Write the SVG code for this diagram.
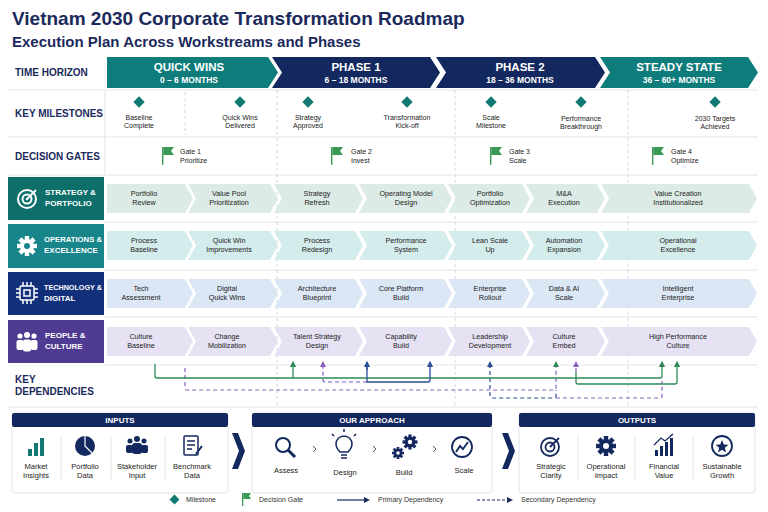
<svg xmlns="http://www.w3.org/2000/svg" width="768" height="512" viewBox="0 0 768 512">
<defs>
<style>
text{font-family:"Liberation Sans",Arial,sans-serif}
.t1{font-size:19px;font-weight:bold;fill:#1b2a5c}
.t2{font-size:15px;font-weight:bold;fill:#1b2a5c}
.rl{font-size:10px;font-weight:bold;fill:#1b2a5c}
.ph{font-size:11.5px;font-weight:bold;fill:#fff;text-anchor:middle}
.phs{font-size:8.5px;font-weight:bold;fill:#fff;text-anchor:middle}
.sm{font-size:7px;fill:#222;text-anchor:middle}
.g{font-size:7px;fill:#222}
.ws{font-size:7.2px;fill:#222;text-anchor:middle}
.wl{font-size:8px;font-weight:bold;fill:#fff}
.bh{font-size:8px;font-weight:bold;fill:#fff;text-anchor:middle}
.bl{font-size:7.5px;fill:#222;text-anchor:middle}
.lg{font-size:7px;fill:#333}
.sep{stroke:#e2e4e8;stroke-width:1}
.vd{stroke:#c8cbd2;stroke-width:0.8;stroke-dasharray:3 3}
.gr{fill:none;stroke:#2e8b57;stroke-width:1.3}
.bu{fill:none;stroke:#2b4f9a;stroke-width:1.3}
.pu{fill:none;stroke:#8a5cc0;stroke-width:1.2;stroke-dasharray:4 3}
.bud{fill:none;stroke:#2b4f9a;stroke-width:1.2;stroke-dasharray:4 3}
.ic{fill:#13285e}
</style>
<marker id="ag" viewBox="0 0 10 10" refX="5" refY="5" markerWidth="5" markerHeight="5" orient="auto"><path d="M0 0L10 5L0 10z" fill="#2e8b57"/></marker>
<marker id="ab" viewBox="0 0 10 10" refX="5" refY="5" markerWidth="5" markerHeight="5" orient="auto"><path d="M0 0L10 5L0 10z" fill="#2b4f9a"/></marker>
<marker id="ap" viewBox="0 0 10 10" refX="5" refY="5" markerWidth="5" markerHeight="5" orient="auto"><path d="M0 0L10 5L0 10z" fill="#8a5cc0"/></marker>
<marker id="an" viewBox="0 0 10 10" refX="5" refY="5" markerWidth="5" markerHeight="5" orient="auto"><path d="M0 0L10 5L0 10z" fill="#1b2a5c"/></marker>
<g id="dia"><rect x="-4" y="-4" width="8" height="8" transform="rotate(45)" fill="#127a72"/></g>
<g id="flag"><rect x="0" y="-8" width="1.4" height="18" fill="#3a9a55"/><path d="M1.4 -8 L12 -8 L9 -4 L12 0 L1.4 0z" fill="#3a9a55"/></g>
<g id="gear"><circle r="7" /><rect x="-2.2" y="-10" width="4.4" height="20"/><rect x="-2.2" y="-10" width="4.4" height="20" transform="rotate(45)"/><rect x="-2.2" y="-10" width="4.4" height="20" transform="rotate(90)"/><rect x="-2.2" y="-10" width="4.4" height="20" transform="rotate(135)"/></g>
</defs>
<rect width="768" height="512" fill="#fff"/>
<text class="t1" x="12" y="25">Vietnam 2030 Corporate Transformation Roadmap</text>
<text class="t2" x="12" y="47">Execution Plan Across Workstreams and Phases</text>

<g id="grid">
<line class="sep" x1="8" y1="90" x2="758" y2="90"/>
<line class="sep" x1="8" y1="137" x2="758" y2="137"/>
<line class="sep" x1="8" y1="175" x2="758" y2="175"/>
<line class="sep" x1="105" y1="222" x2="758" y2="222"/>
<line class="sep" x1="105" y1="270" x2="758" y2="270"/>
<line class="sep" x1="105" y1="317" x2="758" y2="317"/>
<line class="sep" x1="105" y1="365" x2="758" y2="365"/>
<line class="sep" x1="8" y1="407" x2="758" y2="407"/>
<line class="sep" x1="105" y1="90" x2="105" y2="175"/>
<line class="vd" x1="277" y1="90" x2="277" y2="405"/>
<line class="vd" x1="455" y1="90" x2="455" y2="405"/>
<line class="vd" x1="628" y1="90" x2="628" y2="405"/>
<line class="vd" x1="185" y1="92" x2="185" y2="135"/>
</g>

<g id="labels">
<text class="rl" x="15" y="76">TIME HORIZON</text>
<text class="rl" x="15" y="117">KEY MILESTONES</text>
<text class="rl" x="15" y="160">DECISION GATES</text>
<text class="rl" x="15" y="383">KEY</text>
<text class="rl" x="15" y="395">DEPENDENCIES</text>
</g>

<g id="phases">
<polygon points="107,57 268,57 278,72.5 268,88 107,88" fill="#0e7c7b"/>
<polygon points="272,57 430,57 440,72.5 430,88 272,88 282,72.5" fill="#13285e"/>
<polygon points="436,57 595,57 605,72.5 595,88 436,88 446,72.5" fill="#13285e"/>
<polygon points="600,57 748,57 758,72.5 748,88 600,88 610,72.5" fill="#0e7c7b"/>
<text class="ph" x="189" y="71">QUICK WINS</text><text class="phs" x="189" y="83">0 – 6 MONTHS</text>
<text class="ph" x="356" y="71">PHASE 1</text><text class="phs" x="356" y="83">6 – 18 MONTHS</text>
<text class="ph" x="520" y="71">PHASE 2</text><text class="phs" x="520" y="83">18 – 36 MONTHS</text>
<text class="ph" x="679" y="71">STEADY STATE</text><text class="phs" x="679" y="83">36 – 60+ MONTHS</text>
</g>

<g id="milestones">
<use href="#dia" x="139" y="102"/><text class="sm" x="139" y="120">Baseline</text><text class="sm" x="139" y="128">Complete</text>
<use href="#dia" x="240" y="102"/><text class="sm" x="240" y="120">Quick Wins</text><text class="sm" x="240" y="128">Delivered</text>
<use href="#dia" x="308" y="102"/><text class="sm" x="308" y="120">Strategy</text><text class="sm" x="308" y="128">Approved</text>
<use href="#dia" x="407" y="102"/><text class="sm" x="407" y="120">Transformation</text><text class="sm" x="407" y="128">Kick-off</text>
<use href="#dia" x="491" y="102"/><text class="sm" x="491" y="120">Scale</text><text class="sm" x="491" y="128">Milestone</text>
<use href="#dia" x="581" y="102"/><text class="sm" x="581" y="121">Performance</text><text class="sm" x="581" y="129">Breakthrough</text>
<use href="#dia" x="715" y="102"/><text class="sm" x="715" y="121">2030 Targets</text><text class="sm" x="715" y="129">Achieved</text>
</g>

<g id="gates">
<use href="#flag" x="162" y="155"/><text class="g" x="180" y="154">Gate 1</text><text class="g" x="180" y="163">Prioritize</text>
<use href="#flag" x="331" y="155"/><text class="g" x="351" y="154">Gate 2</text><text class="g" x="351" y="163">Invest</text>
<use href="#flag" x="490" y="155"/><text class="g" x="509" y="154">Gate 3</text><text class="g" x="509" y="163">Scale</text>
<use href="#flag" x="652" y="155"/><text class="g" x="671" y="154">Gate 4</text><text class="g" x="671" y="163">Optimize</text>
</g>

<g id="ws-strategy">
<rect x="8" y="177" width="96" height="43" fill="#0d6e6a"/>
<circle cx="27" cy="199" r="9" fill="none" stroke="#fff" stroke-width="2"/><circle cx="27" cy="199" r="4.5" fill="none" stroke="#fff" stroke-width="2"/><circle cx="27" cy="199" r="1.3" fill="#fff"/><line x1="27" y1="199" x2="36" y2="190" stroke="#fff" stroke-width="1.8"/>
<text class="wl" x="45" y="195">STRATEGY &amp;</text><text class="wl" x="45" y="206">PORTFOLIO</text>
<g fill="#dcebe5">
<polygon points="107,184 185,184 193,198.5 185,213 107,213"/>
<polygon points="188,184 270,184 278,198.5 270,213 188,213 196,198.5"/>
<polygon points="274,184 355,184 363,198.5 355,213 274,213 282,198.5"/>
<polygon points="359,184 444,184 452,198.5 444,213 359,213 367,198.5"/>
<polygon points="448,184 522,184 530,198.5 522,213 448,213 456,198.5"/>
<polygon points="526,184 597,184 605,198.5 597,213 526,213 534,198.5"/>
<polygon points="601,184 749,184 757,198.5 749,213 601,213 609,198.5"/>
</g>
<text class="ws" x="144" y="196">Portfolio</text><text class="ws" x="144" y="205">Review</text>
<text class="ws" x="229" y="196">Value Pool</text><text class="ws" x="229" y="205">Prioritization</text>
<text class="ws" x="317" y="196">Strategy</text><text class="ws" x="317" y="205">Refresh</text>
<text class="ws" x="406" y="196">Operating Model</text><text class="ws" x="406" y="205">Design</text>
<text class="ws" x="490" y="196">Portfolio</text><text class="ws" x="490" y="205">Optimization</text>
<text class="ws" x="564" y="196">M&amp;A</text><text class="ws" x="564" y="205">Execution</text>
<text class="ws" x="678" y="196">Value Creation</text><text class="ws" x="678" y="205">Institutionalized</text>
</g>

<g id="ws-operations">
<rect x="8" y="224" width="96" height="44" fill="#17858a"/>
<use href="#gear" x="27" y="246" fill="#fff"/><circle cx="27" cy="246" r="3" fill="#17858a"/>
<text class="wl" x="44" y="242" textLength="58" lengthAdjust="spacingAndGlyphs">OPERATIONS &amp;</text><text class="wl" x="44" y="253">EXCELLENCE</text>
<g fill="#d5ecec">
<polygon points="107,231 185,231 193,245.5 185,260 107,260"/>
<polygon points="188,231 270,231 278,245.5 270,260 188,260 196,245.5"/>
<polygon points="274,231 355,231 363,245.5 355,260 274,260 282,245.5"/>
<polygon points="359,231 444,231 452,245.5 444,260 359,260 367,245.5"/>
<polygon points="448,231 522,231 530,245.5 522,260 448,260 456,245.5"/>
<polygon points="526,231 597,231 605,245.5 597,260 526,260 534,245.5"/>
<polygon points="601,231 749,231 757,245.5 749,260 601,260 609,245.5"/>
</g>
<text class="ws" x="144" y="243">Process</text><text class="ws" x="144" y="252">Baseline</text>
<text class="ws" x="229" y="243">Quick Win</text><text class="ws" x="229" y="252">Improvements</text>
<text class="ws" x="317" y="243">Process</text><text class="ws" x="317" y="252">Redesign</text>
<text class="ws" x="406" y="243">Performance</text><text class="ws" x="406" y="252">System</text>
<text class="ws" x="490" y="243">Lean Scale</text><text class="ws" x="490" y="252">Up</text>
<text class="ws" x="564" y="243">Automation</text><text class="ws" x="564" y="252">Expansion</text>
<text class="ws" x="678" y="243">Operational</text><text class="ws" x="678" y="252">Excellence</text>
</g>

<g id="ws-technology">
<rect x="8" y="272" width="96" height="43" fill="#122f7a"/>
<g stroke="#fff" stroke-width="1.5" fill="none"><rect x="20" y="286" width="14" height="14" rx="1.5"/><rect x="24" y="290" width="6" height="6"/><path d="M23 286v-4M27 286v-4M31 286v-4M23 300v4M27 300v4M31 300v4M20 289h-4M20 293h-4M20 297h-4M34 289h4M34 293h4M34 297h4"/></g>
<text class="wl" x="44" y="290" textLength="58" lengthAdjust="spacingAndGlyphs">TECHNOLOGY &amp;</text><text class="wl" x="44" y="301">DIGITAL</text>
<g fill="#dce7f5">
<polygon points="107,279 185,279 193,293.5 185,308 107,308"/>
<polygon points="188,279 270,279 278,293.5 270,308 188,308 196,293.5"/>
<polygon points="274,279 355,279 363,293.5 355,308 274,308 282,293.5"/>
<polygon points="359,279 444,279 452,293.5 444,308 359,308 367,293.5"/>
<polygon points="448,279 522,279 530,293.5 522,308 448,308 456,293.5"/>
<polygon points="526,279 597,279 605,293.5 597,308 526,308 534,293.5"/>
<polygon points="601,279 749,279 757,293.5 749,308 601,308 609,293.5"/>
</g>
<text class="ws" x="141" y="291">Tech</text><text class="ws" x="141" y="300">Assessment</text>
<text class="ws" x="227" y="291">Digital</text><text class="ws" x="227" y="300">Quick Wins</text>
<text class="ws" x="317" y="291">Architecture</text><text class="ws" x="317" y="300">Blueprint</text>
<text class="ws" x="401" y="291">Core Platform</text><text class="ws" x="401" y="300">Build</text>
<text class="ws" x="490" y="291">Enterprise</text><text class="ws" x="490" y="300">Rollout</text>
<text class="ws" x="564" y="291">Data &amp; AI</text><text class="ws" x="564" y="300">Scale</text>
<text class="ws" x="678" y="291">Intelligent</text><text class="ws" x="678" y="300">Enterprise</text>
</g>

<g id="ws-people">
<rect x="8" y="320" width="96" height="43" fill="#4f3c92"/>
<g fill="#fff"><circle cx="20" cy="336" r="2.6"/><circle cx="27" cy="335" r="3"/><circle cx="34" cy="336" r="2.6"/><rect x="16.5" y="340" width="7" height="10" rx="2"/><rect x="23" y="339.5" width="8" height="12" rx="2"/><rect x="30.5" y="340" width="7" height="10" rx="2"/></g>
<text class="wl" x="45" y="338">PEOPLE &amp;</text><text class="wl" x="45" y="349">CULTURE</text>
<g fill="#e6e1f3">
<polygon points="107,327 185,327 193,341.5 185,356 107,356"/>
<polygon points="188,327 270,327 278,341.5 270,356 188,356 196,341.5"/>
<polygon points="274,327 355,327 363,341.5 355,356 274,356 282,341.5"/>
<polygon points="359,327 444,327 452,341.5 444,356 359,356 367,341.5"/>
<polygon points="448,327 522,327 530,341.5 522,356 448,356 456,341.5"/>
<polygon points="526,327 597,327 605,341.5 597,356 526,356 534,341.5"/>
<polygon points="601,327 749,327 757,341.5 749,356 601,356 609,341.5"/>
</g>
<text class="ws" x="141" y="339">Culture</text><text class="ws" x="141" y="348">Baseline</text>
<text class="ws" x="227" y="339">Change</text><text class="ws" x="227" y="348">Mobilization</text>
<text class="ws" x="317" y="339">Talent Strategy</text><text class="ws" x="317" y="348">Design</text>
<text class="ws" x="401" y="339">Capability</text><text class="ws" x="401" y="348">Build</text>
<text class="ws" x="490" y="339">Leadership</text><text class="ws" x="490" y="348">Development</text>
<text class="ws" x="564" y="339">Culture</text><text class="ws" x="564" y="348">Embed</text>
<text class="ws" x="678" y="339">High Performance</text><text class="ws" x="678" y="348">Culture</text>
</g>

<g id="connectors">
<path class="pu" d="M185 368 V388 Q185 390 187 390 H554 Q556 390 556 388 V364" marker-end="url(#ag)"/>
<path class="bud" d="M490 364 V396 Q490 398 492 398 H554 Q556 398 556 396 V390"/>
<path class="pu" d="M556 398 H660 Q662 398 662 396 V381"/>
<path class="gr" d="M155 364 V376 Q155 378 157 378 H660 Q662 378 662 376 V364" marker-end="url(#ag)"/>
<path class="gr" d="M293 378 V364" marker-end="url(#ag)"/>
<path class="pu" d="M367 382 H325 Q323 382 323 380 V364" marker-end="url(#ap)"/>
<path class="bu" d="M367 364 V382 H428 Q430 382 430 380 V364" marker-end="url(#ab)"/>
<path class="bu" d="M367 370 V364" marker-end="url(#ab)"/>
<path class="bud" d="M490 368 V364" marker-end="url(#ab)"/>
<path class="pu" d="M576 372 V364" marker-end="url(#ap)"/>
<path class="gr" d="M576 372 V382 Q576 384 578 384 H675 Q677 384 677 382 V364" marker-end="url(#ag)"/>
</g>

<g id="inputs">
<rect x="12" y="413" width="216" height="80" rx="3" fill="#fff" stroke="#e0e2e6"/>
<rect x="12" y="413" width="216" height="14" rx="2" fill="#13285e"/>
<text class="bh" x="120" y="423">INPUTS</text>
<g fill="#127a72"><rect x="28" y="449" width="4" height="7"/><rect x="34" y="443" width="4" height="13"/><rect x="40" y="438" width="4" height="18"/></g>
<circle cx="85" cy="446" r="10" class="ic"/><path d="M85 436 V446 L92 453" stroke="#fff" stroke-width="1.2" fill="none"/>
<g class="ic"><circle cx="137" cy="439" r="3"/><circle cx="130" cy="441" r="2.5"/><circle cx="144" cy="441" r="2.5"/><rect x="132" y="443" width="10" height="11" rx="3"/><rect x="126" y="445" width="7" height="8" rx="2"/><rect x="141" y="445" width="7" height="8" rx="2"/></g>
<g fill="none" stroke="#13285e" stroke-width="1.5"><rect x="184" y="436" width="14" height="19" rx="1"/><path d="M187 441h8M187 445h8M187 449h5"/><path d="M196 454 L202 446" stroke-width="2"/></g>
<line x1="61" y1="436" x2="61" y2="480" class="sep"/><line x1="111" y1="436" x2="111" y2="480" class="sep"/><line x1="165" y1="436" x2="165" y2="480" class="sep"/>
<text class="bl" x="36" y="469">Market</text><text class="bl" x="36" y="478">Insights</text>
<text class="bl" x="85" y="469">Portfolio</text><text class="bl" x="85" y="478">Data</text>
<text class="bl" x="137" y="469">Stakeholder</text><text class="bl" x="137" y="478">Input</text>
<text class="bl" x="192" y="469">Benchmark</text><text class="bl" x="192" y="478">Data</text>
</g>
<polygon points="232,433 238,433 245,451 238,469 232,469 239,451" fill="#13285e"/>
<g id="approach">
<rect x="252" y="413" width="240" height="80" rx="3" fill="#fff" stroke="#e0e2e6"/>
<rect x="252" y="413" width="240" height="14" rx="2" fill="#13285e"/>
<text class="bh" x="372" y="423">OUR APPROACH</text>
<g fill="none" stroke="#13285e" stroke-width="2"><circle cx="283" cy="445" r="7"/><path d="M288 450 L295 457" stroke-width="3"/></g>
<g fill="none" stroke="#13285e" stroke-width="1.5"><path d="M340 452 Q336 448 336 444 A8 8 0 0 1 352 444 Q352 448 348 452 Z"/><path d="M341 455h6M341 458h6"/><path d="M344 432v-3M334 436l-2-2M354 436l2-2"/></g>
<use href="#gear" fill="#13285e" transform="translate(410,442) scale(0.75)"/><circle cx="410" cy="442" r="2.2" fill="#fff"/>
<use href="#gear" fill="#13285e" transform="translate(398,453) scale(0.6)"/><circle cx="398" cy="453" r="1.8" fill="#fff"/>
<g fill="none" stroke="#13285e" stroke-width="1.8"><circle cx="462" cy="447" r="10"/><path d="M456 452 L460 446 L463 449 L468 442"/></g>
<g fill="none" stroke="#555" stroke-width="1"><path d="M313 446 l3 3 l-3 3"/><path d="M373 446 l3 3 l-3 3"/><path d="M433 446 l3 3 l-3 3"/></g>
<text class="bl" x="286" y="473">Assess</text>
<text class="bl" x="345" y="475">Design</text>
<text class="bl" x="404" y="475">Build</text>
<text class="bl" x="464" y="473">Scale</text>
</g>
<polygon points="502,433 508,433 515,451 508,469 502,469 509,451" fill="#13285e"/>
<g id="outputs">
<rect x="519" y="413" width="236" height="80" rx="3" fill="#fff" stroke="#e0e2e6"/>
<rect x="519" y="413" width="236" height="14" rx="2" fill="#13285e"/>
<text class="bh" x="637" y="423">OUTPUTS</text>
<g fill="none" stroke="#13285e" stroke-width="1.8"><circle cx="550" cy="447" r="9"/><circle cx="550" cy="447" r="4.5"/><path d="M550 447 L559 438"/></g>
<use href="#gear" fill="#13285e" x="606" y="446"/><circle cx="606" cy="446" r="3" fill="#fff"/>
<g class="ic"><rect x="655" y="450" width="3" height="6"/><rect x="660" y="446" width="3" height="10"/><rect x="665" y="442" width="3" height="14"/><rect x="670" y="438" width="3" height="18"/></g>
<path d="M654 445 L661 438 L665 441 L673 434" fill="none" stroke="#13285e" stroke-width="1.3"/>
<circle cx="722" cy="446" r="10" fill="none" stroke="#13285e" stroke-width="1.8"/>
<polygon points="722,440 723.8,444.5 728.5,444.8 724.8,447.8 726,452.5 722,449.8 718,452.5 719.2,447.8 715.5,444.8 720.2,444.5" class="ic"/>
<line x1="578" y1="436" x2="578" y2="480" class="sep"/><line x1="635" y1="436" x2="635" y2="480" class="sep"/><line x1="693" y1="436" x2="693" y2="480" class="sep"/>
<text class="bl" x="551" y="469">Strategic</text><text class="bl" x="551" y="478">Clarity</text>
<text class="bl" x="606" y="469">Operational</text><text class="bl" x="606" y="478">Impact</text>
<text class="bl" x="664" y="469">Financial</text><text class="bl" x="664" y="478">Value</text>
<text class="bl" x="722" y="469">Sustainable</text><text class="bl" x="722" y="478">Growth</text>
</g>

<g id="legend">
<rect x="171" y="496" width="7" height="7" transform="rotate(45 174.5 499.5)" fill="#127a72"/>
<text class="lg" x="186" y="502">Milestone</text>
<rect x="242" y="493" width="1.3" height="13" fill="#3a9a55"/><path d="M243.3 493 L251 493 L249 496 L251 499 L243.3 499z" fill="#3a9a55"/>
<text class="lg" x="259" y="502">Decision Gate</text>
<line x1="337" y1="500" x2="367" y2="500" stroke="#1b2a5c" stroke-width="1.2" marker-end="url(#an)"/>
<text class="lg" x="378" y="502">Primary Dependency</text>
<line x1="477" y1="500" x2="510" y2="500" stroke="#1b2a5c" stroke-width="1.2" stroke-dasharray="3 2" marker-end="url(#an)"/>
<text class="lg" x="521" y="502">Secondary Dependency</text>
</g>
</svg>
